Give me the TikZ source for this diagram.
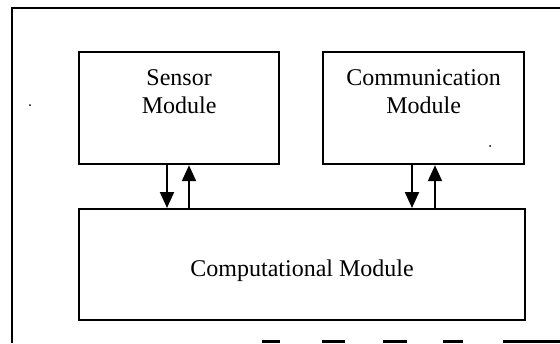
\documentclass[tikz,border=0pt]{standalone}
\usepackage{fontspec}
\setmainfont{Liberation Serif}
\usetikzlibrary{arrows.meta}
\begin{document}
\begin{tikzpicture}[x=1pt,y=-1pt,
  box/.style={draw,line width=2.2pt,inner sep=0pt,anchor=north west},
  lbl/.style={font=\fontsize{24}{28}\selectfont,align=center,inner sep=0pt},
  arr/.style={line width=2pt,-{Triangle[length=16pt,width=14pt]}},
  frame/.style={line width=2.4pt}]
\useasboundingbox (0,0) rectangle (560,343);
% outer frame (right and bottom cut off)
\draw[frame] (12,343) -- (12,8) -- (560,8);
\foreach \a/\b in {262/280,322/345,383/407,443/463,503/560}
  \draw[line width=3pt] (\a,341.5) -- (\b,341.5);
% boxes
\node[box,minimum width=200pt,minimum height=112pt] (sensor) at (78,51) {};
\node[box,minimum width=201pt,minimum height=112pt] (comm) at (322,51) {};
\node[box,minimum width=446pt,minimum height=111pt] (comp) at (78,208) {};
% labels
\node[lbl,anchor=north] (sensortxt) at ([yshift=-18pt]sensor.north) {Sensor\\Module};
\node[lbl,anchor=north] (commtxt) at ([yshift=-18pt]comm.north) {Communication\\Module};
\node[lbl] (comptxt) at ([yshift=-6pt]comp.center) {Computational Module};
% arrows
\coordinate (s1) at (167,0); \coordinate (s2) at (189,0);
\coordinate (c1) at (412,0); \coordinate (c2) at (435,0);
\draw[arr] (sensor.south -| s1) -- (comp.north -| s1);
\draw[arr] (comp.north -| s2) -- (sensor.south -| s2);
\draw[arr] (comm.south -| c1) -- (comp.north -| c1);
\draw[arr] (comp.north -| c2) -- (comm.south -| c2);
% scan specks
\fill (30,105) circle (1pt);
\fill (490,146) circle (1pt);
\end{tikzpicture}
\end{document}
